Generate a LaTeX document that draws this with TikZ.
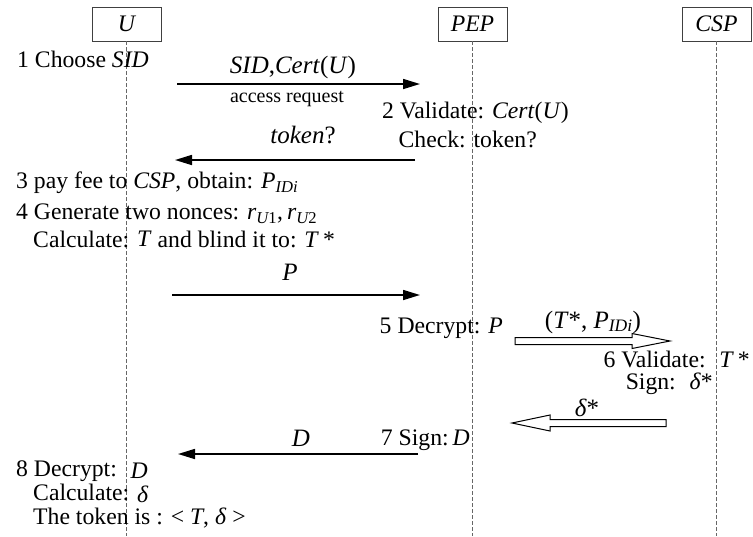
\documentclass[tikz,border=0pt]{standalone}
\usepackage{fontspec}
\usepackage{amsmath}
\setmainfont{Liberation Serif}
\usetikzlibrary{arrows.meta}
\begin{document}
\begin{tikzpicture}[x=1pt,y=-1pt,
  txt/.style={inner sep=0pt, font=\fontsize{23.7}{27}\selectfont, text height=16pt, text depth=5pt},
  mlab/.style={inner sep=0pt, font=\fontsize{25}{29}\selectfont, text height=17pt, text depth=5pt},
  small/.style={inner sep=0pt, font=\fontsize{20}{24}\selectfont, text height=14pt, text depth=4pt},
  actor/.style={draw=black!75, line width=0.9pt, minimum width=69pt, minimum height=34pt, inner sep=0pt, font=\fontsize{23.7}{27}\selectfont\itshape},
  life/.style={draw=black!60, line width=0.8pt, dash pattern=on 4pt off 2pt},
  msg/.style={line width=1.6pt, -{Triangle[length=17pt,width=10pt]}},
  hollow/.style={draw=black, line width=1pt, fill=white}
]
\useasboundingbox (0,0) rectangle (753,536);

% actors and lifelines
\node[actor] (U) at (126.5,24) {U};
\node[actor] (PEP) at (472.5,24) {PEP};
\node[actor] (CSP) at (716.5,24) {CSP};
\coordinate (Uend) at (U.south |- 0,536);
\coordinate (PEPend) at (PEP.south |- 0,536);
\coordinate (CSPend) at (CSP.south |- 0,536);
\draw[life] (U.south) -- (Uend);
\draw[life] (PEP.south) -- (PEPend);
\draw[life] (CSP.south) -- (CSPend);

% step 1
\node[txt, anchor=west] (s1) at (17,62) {1 Choose \textit{SID}};
\coordinate (m1s) at (177,84);
\coordinate (m1e) at (420,84);
\draw[msg] (m1s) -- (m1e);
\node[mlab] (l1) at (293,67) {\textit{SID},\textit{Cert}(\textit{U})};
\node[small] (l1b) at (287,97) {access request};

% step 2
\node[txt, anchor=east] (s2a) at (569,113) {2 Validate: \textit{Cert}(\textit{U})};
\node[txt, anchor=east] (s2b) at (537,142) {Check: token?};
\coordinate (m2s) at (415,160);
\coordinate (m2e) at (175,160);
\draw[msg] (m2s) -- (m2e);
\node[mlab] (l2) at (303,137) {\textit{token}?};

% step 3, 4
\node[txt, anchor=west] (s3) at (16,183) {3 pay fee to \textit{CSP}, obtain: $\textit{P}_{\textit{IDi}}$};
\node[txt, anchor=west] (s4a) at (16,214) {4 Generate two nonces: $\textit{r}_{\textit{U}\text{1}}$,\,$\textit{r}_{\textit{U}\text{2}}$};
\node[txt, anchor=west] (s4b) at (33,242) {Calculate: \raisebox{1pt}{\textit{T}} and blind it to: \textit{T}\,*};
\coordinate (m3s) at (172,295);
\coordinate (m3e) at (420,295);
\draw[msg] (m3s) -- (m3e);
\node[mlab] (l3) at (290,274) {\textit{P}};

% step 5
\node[txt, anchor=east] (s5) at (503,328) {5 Decrypt: \textit{P}};
\node[mlab] (l4) at (593,322) {(\textit{T}*, $\textit{P}_{\textit{IDi}}$)};
\coordinate (h1s) at (515,341);
\coordinate (h1e) at (670,341);
\draw[hollow] (h1s) ++(0,-3.5) -- ++(117,0) -- ++(0,-4) -- (h1e) -- ++(-38,7.5) -- ++(0,-4) -- ++(-117,0) -- cycle;

% step 6
\node[txt, anchor=east] (s6a) at (750,362) {6 Validate: \ \textit{T}\,*};
\node[txt, anchor=east] (s6b) at (713,384) {Sign: \ \textit{δ}*};
\node[mlab] (l5) at (587,410) {\textit{δ}*};
\coordinate (h2s) at (666,423);
\coordinate (h2e) at (512,423);
\draw[hollow] (h2s) ++(0,-3.5) -- ++(-116,0) -- ++(0,-4.5) -- (h2e) -- ++(38,8) -- ++(0,-4.5) -- ++(116,0) -- cycle;

% step 7
\node[txt, anchor=east] (s7) at (470,440) {7 Sign:\,\textit{D}};
\coordinate (m4s) at (418,454);
\coordinate (m4e) at (178,454);
\draw[msg] (m4s) -- (m4e);
\node[mlab] (l6) at (301,440) {\textit{D}};

% step 8
\node[txt, anchor=west] (s8a) at (16,471) {8 Decrypt: \ \raisebox{-2pt}{\textit{D}}};
\node[txt, anchor=west] (s8b) at (33,495) {Calculate: \raisebox{-2pt}{\textit{δ}}};
\node[txt, anchor=west] (s8c) at (33,519) {The token is : < \textit{T}, \textit{δ} >};
\end{tikzpicture}
\end{document}
